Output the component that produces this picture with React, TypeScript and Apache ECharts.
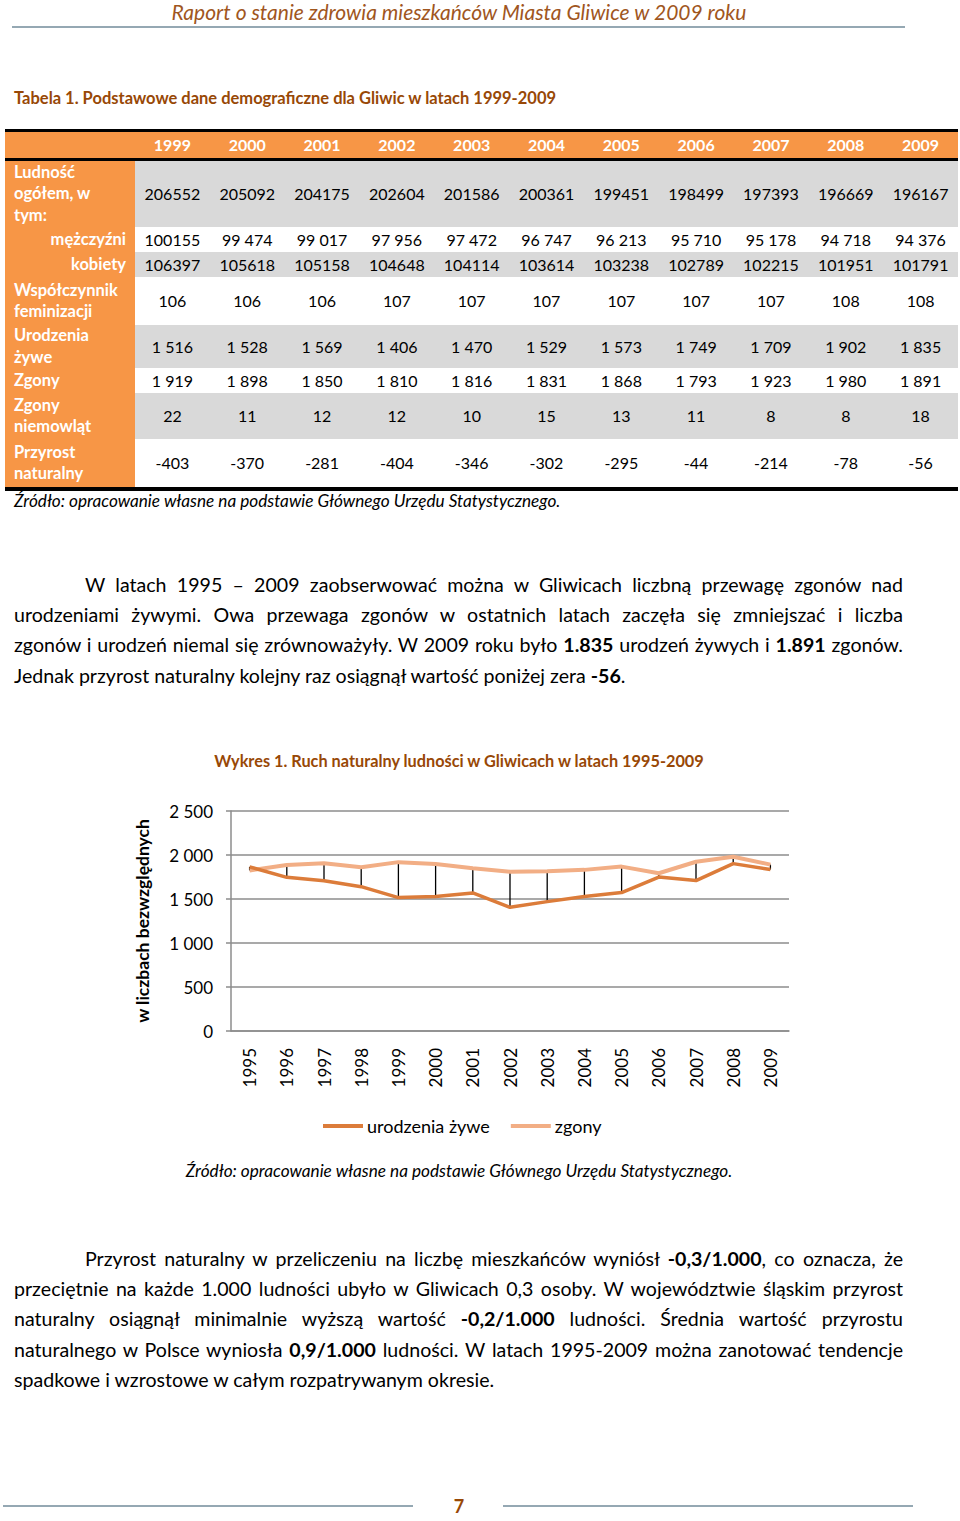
import React, { useEffect, useRef } from "react";
import * as echarts from "echarts";

const FONT = "Lato, 'Open Sans', sans-serif";

const tableYears = ["1999", "2000", "2001", "2002", "2003", "2004", "2005", "2006", "2007", "2008", "2009"];
const popTotal = ["206552", "205092", "204175", "202604", "201586", "200361", "199451", "198499", "197393", "196669", "196167"];
const popMen = ["100155", "99 474", "99 017", "97 956", "97 472", "96 747", "96 213", "95 710", "95 178", "94 718", "94 376"];
const popWomen = ["106397", "105618", "105158", "104648", "104114", "103614", "103238", "102789", "102215", "101951", "101791"];
const femRatio = ["106", "106", "106", "107", "107", "107", "107", "107", "107", "108", "108"];
const infantDeaths = ["22", "11", "12", "12", "10", "15", "13", "11", "8", "8", "18"];
const naturalGrowth = ["-403", "-370", "-281", "-404", "-346", "-302", "-295", "-44", "-214", "-78", "-56"];

const chartYears = ["1995", "1996", "1997", "1998", "1999", "2000", "2001", "2002", "2003", "2004", "2005", "2006", "2007", "2008", "2009"];
const births = [1865, 1746, 1708, 1640, 1516, 1528, 1569, 1406, 1470, 1529, 1573, 1749, 1709, 1902, 1835];
const deaths = [1825, 1886, 1905, 1860, 1919, 1898, 1850, 1810, 1816, 1831, 1868, 1793, 1923, 1980, 1891];
const yTicks = [0, 500, 1000, 1500, 2000, 2500];

const fmt = (n: number) =>
  n >= 1000 ? `${Math.floor(n / 1000)} ${String(n % 1000).padStart(3, "0")}` : String(n);

const ORANGE = "#F79646";
const GRAY = "#D9D9D9";
const BROWN = "#984806";

type Row = { label: string[]; top: number; h: number; gray: boolean; right?: boolean; values: string[] };

const rows: Row[] = [
  { label: ["Ludność", "ogółem, w", "tym:"], top: 161, h: 66, gray: true, values: popTotal },
  { label: ["mężczyźni"], top: 227, h: 25, gray: false, right: true, values: popMen },
  { label: ["kobiety"], top: 252, h: 25, gray: true, right: true, values: popWomen },
  { label: ["Współczynnik", "feminizacji"], top: 277, h: 48, gray: false, values: femRatio },
  { label: ["Urodzenia", "żywe"], top: 325, h: 43, gray: true, values: births.slice(4).map(fmt) },
  { label: ["Zgony"], top: 368, h: 25, gray: false, values: deaths.slice(4).map(fmt) },
  { label: ["Zgony", "niemowląt"], top: 393, h: 46, gray: true, values: infantDeaths },
  { label: ["Przyrost", "naturalny"], top: 439, h: 48, gray: false, values: naturalGrowth },
];

const COL0 = 135;
const COLW = (958 - 135) / 11;

function abs(style: React.CSSProperties): React.CSSProperties {
  return { position: "absolute", ...style };
}

function Table() {
  const els: React.ReactNode[] = [];
  els.push(<div key="tl" style={abs({ left: 5, top: 129, width: 953, height: 3, background: "#000" })} />);
  els.push(<div key="hdr" style={abs({ left: 5, top: 132, width: 953, height: 26, background: ORANGE })} />);
  tableYears.forEach((y, i) => {
    els.push(
      <div key={"y" + i} style={abs({ left: COL0 + i * COLW, top: 132, width: COLW, height: 26, lineHeight: "26px", textAlign: "center", color: "#fff", fontWeight: "bold", fontSize: 16 })}>{y}</div>
    );
  });
  els.push(<div key="ml" style={abs({ left: 5, top: 158, width: 953, height: 3, background: "#000" })} />);
  rows.forEach((r, ri) => {
    els.push(<div key={"lc" + ri} style={abs({ left: 5, top: r.top, width: 130, height: r.h, background: ORANGE })} />);
    if (r.gray) els.push(<div key={"bg" + ri} style={abs({ left: COL0, top: r.top, width: 958 - COL0, height: r.h, background: GRAY })} />);
    els.push(
      <div key={"lb" + ri} style={abs({ left: 5, top: r.top, width: 130, height: r.h, display: "flex", flexDirection: "column", justifyContent: "center", color: "#fff", fontWeight: "bold", fontSize: 16.5, lineHeight: "21.5px", paddingLeft: r.right ? 0 : 9, paddingRight: r.right ? 9 : 0, boxSizing: "border-box", textAlign: r.right ? "right" : "left" })}>
        {r.label.map((t, k) => <div key={k}>{t}</div>)}
      </div>
    );
    r.values.forEach((v, i) => {
      els.push(
        <div key={"v" + ri + "_" + i} style={abs({ left: COL0 + i * COLW, top: r.top, width: COLW, height: r.h, lineHeight: r.h + "px", textAlign: "center", color: "#000", fontSize: 16 })}>{v}</div>
      );
    });
  });
  els.push(<div key="bl" style={abs({ left: 5, top: 487, width: 953, height: 4, background: "#000" })} />);
  return <>{els}</>;
}

type Seg = string | { b: string };
function Line({ top, left, width, parts, justify }: { top: number; left: number; width: number; parts: Seg[]; justify: boolean }) {
  return (
    <div style={abs({ left, top: top - 15, width, height: 30, lineHeight: "30px", fontSize: 19.6, color: "#000", textAlign: justify ? "justify" : "left", textAlignLast: justify ? "justify" : "left", whiteSpace: "nowrap" as any })}>
      {parts.map((p, i) => (typeof p === "string" ? <span key={i}>{p}</span> : <b key={i}>{p.b}</b>))}
    </div>
  );
}

const para1: Seg[][] = [
  ["W latach 1995 – 2009 zaobserwować można w Gliwicach liczbną przewagę zgonów nad"],
  ["urodzeniami żywymi. Owa przewaga zgonów w ostatnich latach zaczęła się zmniejszać i liczba"],
  ["zgonów i urodzeń niemal się zrównoważyły. W 2009 roku było ", { b: "1.835" }, " urodzeń żywych i ", { b: "1.891" }, " zgonów."],
  ["Jednak przyrost naturalny kolejny raz osiągnął wartość poniżej zera ", { b: "-56" }, "."],
];
const para2: Seg[][] = [
  ["Przyrost naturalny w przeliczeniu na liczbę mieszkańców wyniósł ", { b: "-0,3/1.000" }, ", co oznacza, że"],
  ["przeciętnie na każde 1.000 ludności ubyło w Gliwicach 0,3 osoby. W województwie śląskim przyrost"],
  ["naturalny osiągnął minimalnie wyższą wartość ", { b: "-0,2/1.000" }, " ludności. Średnia wartość przyrostu"],
  ["naturalnego w Polsce wyniosła ", { b: "0,9/1.000" }, " ludności. W latach 1995-2009 można zanotować tendencje"],
  ["spadkowe i wzrostowe w całym rozpatrywanym okresie."],
];

function Paragraph({ lines, startY }: { lines: Seg[][]; startY: number }) {
  return (
    <>
      {lines.map((l, i) => (
        <Line key={i} top={startY + i * 30.2} left={i === 0 ? 85 : 14} width={i === 0 ? 818 : 889} parts={l} justify={i < lines.length - 1} />
      ))}
    </>
  );
}

function Chart() {
  const ref = useRef<HTMLDivElement>(null);
  useEffect(() => {
    if (!ref.current) return;
    const chart = echarts.init(ref.current, undefined, { renderer: "svg" });
    const axisColor = "#8C8C8C";
    chart.setOption({
      animation: false,
      textStyle: { fontFamily: FONT },
      grid: { left: 231, top: 71, width: 558, height: 220, containLabel: false },
      legend: {
        data: ["urodzenia żywe", "zgony"],
        left: 323,
        top: 377,
        padding: 0,
        icon: "rect",
        itemWidth: 40,
        itemHeight: 4,
        itemGap: 21,
        textStyle: { fontSize: 18, color: "#000", fontFamily: FONT, padding: [0, 0, 0, -1] },
      },
      xAxis: {
        type: "category",
        data: chartYears,
        boundaryGap: true,
        axisLine: { lineStyle: { color: axisColor, width: 1.5 } },
        axisTick: { show: false },
        axisLabel: { rotate: 90, margin: 17, fontSize: 17, color: "#000", fontFamily: FONT },
      },
      yAxis: {
        type: "value",
        min: yTicks[0],
        max: yTicks[yTicks.length - 1],
        interval: 500,
        name: "w liczbach bezwzględnych",
        nameLocation: "middle",
        nameGap: 80,
        nameRotate: 90,
        nameTextStyle: { fontSize: 17.5, fontWeight: "bold", color: "#000", fontFamily: FONT },
        axisLine: { show: true, lineStyle: { color: axisColor, width: 1.5 } },
        axisTick: { show: true, length: 5, lineStyle: { color: axisColor, width: 1.5 } },
        splitLine: { lineStyle: { color: axisColor, width: 1.5 } },
        axisLabel: { formatter: (v: number) => fmt(v), fontSize: 17, margin: 18, color: "#000", fontFamily: FONT },
      },
      graphic: [
        { type: "text", x: 459, y: 20, style: { text: "Wykres 1. Ruch naturalny ludności w Gliwicach w latach 1995-2009", textAlign: "center", textVerticalAlign: "middle", fill: BROWN, font: `bold 16.3px ${FONT}` } },
        { type: "text", x: 459, y: 430, style: { text: "Źródło: opracowanie własne na podstawie Głównego Urzędu Statystycznego.", textAlign: "center", textVerticalAlign: "middle", fill: "#000", font: `italic 17.2px ${FONT}` } },
      ],
      series: [
        {
          type: "custom",
          silent: true,
          z: 1,
          data: births.map((b, i) => [i, b, deaths[i]]),
          encode: { x: 0, y: [1, 2] },
          renderItem: (_p: any, api: any) => {
            const a = api.coord([api.value(0), api.value(1)]);
            const b = api.coord([api.value(0), api.value(2)]);
            return { type: "line", shape: { x1: a[0], y1: a[1], x2: b[0], y2: b[1] }, style: { stroke: "#000", lineWidth: 1.3 } };
          },
        },
        { name: "zgony", type: "line", z: 2, data: deaths, symbol: "none", lineStyle: { color: "#F2AE85", width: 4 }, itemStyle: { color: "#F2AE85" } },
        { name: "urodzenia żywe", type: "line", z: 3, data: births, symbol: "none", lineStyle: { color: "#DC7C3A", width: 3.5 }, itemStyle: { color: "#DC7C3A" } },
      ],
    });
    return () => chart.dispose();
  }, []);
  return <div ref={ref} style={abs({ left: 0, top: 740, width: 960, height: 460 })} />;
}

export default function App() {
  return (
    <div style={{ position: "absolute", left: 0, top: 0, width: 960, height: 1521, background: "#fff", fontFamily: FONT, overflow: "hidden" }}>
      <div style={abs({ left: 0, top: 0, width: 918, height: 24, lineHeight: "24px", textAlign: "center", fontStyle: "italic", fontSize: 21, color: "#A0561E" })}>
        Raport o stanie zdrowia mieszkańców Miasta Gliwice w 2009 roku
      </div>
      <div style={abs({ left: 12, top: 26, width: 893, height: 1.5, background: "#95A8B3" })} />
      <div style={abs({ left: 14, top: 87, height: 22, lineHeight: "22px", fontWeight: "bold", fontSize: 16.5, color: BROWN, whiteSpace: "nowrap" })}>
        Tabela 1. Podstawowe dane demograficzne dla Gliwic w latach 1999-2009
      </div>
      <Table />
      <div style={abs({ left: 14, top: 490, height: 22, lineHeight: "22px", fontStyle: "italic", fontSize: 17.2, color: "#000", whiteSpace: "nowrap" })}>
        Źródło: opracowanie własne na podstawie Głównego Urzędu Statystycznego.
      </div>
      <Paragraph lines={para1} startY={585} />
      <Chart />
      <Paragraph lines={para2} startY={1259} />
      <div style={abs({ left: 3, top: 1505, width: 410, height: 1.5, background: "#95A8B3" })} />
      <div style={abs({ left: 503, top: 1505, width: 410, height: 1.5, background: "#95A8B3" })} />
      <div style={abs({ left: 440, top: 1496, width: 38, height: 20, lineHeight: "20px", textAlign: "center", fontWeight: "bold", fontSize: 18, color: BROWN })}>7</div>
    </div>
  );
}
